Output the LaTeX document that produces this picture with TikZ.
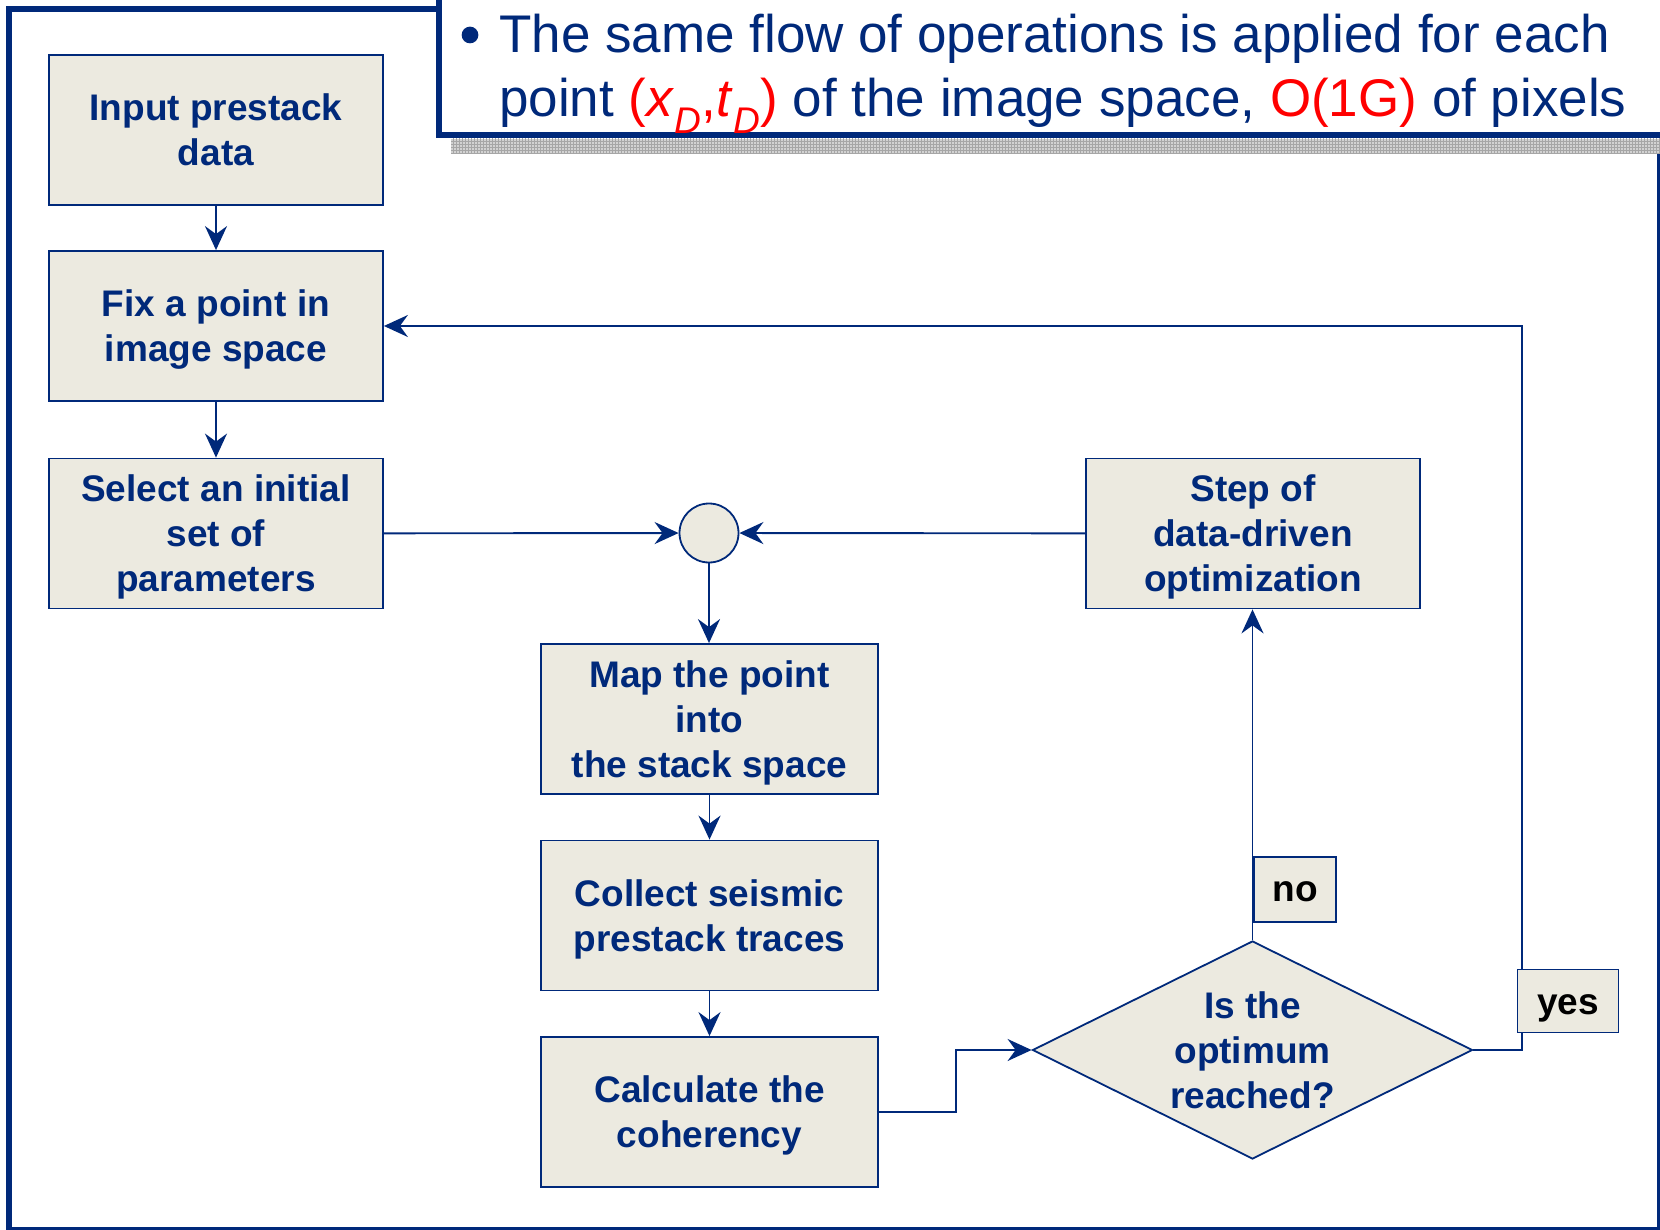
\documentclass[tikz,border=0pt]{standalone}
\usepackage{fontspec}
\setmainfont{Liberation Sans}
\usetikzlibrary{arrows.meta,shapes.geometric,patterns}
\definecolor{navy}{RGB}{0,41,122}
\definecolor{boxfill}{RGB}{236,234,224}
\definecolor{hred}{RGB}{255,0,0}
\begin{document}
\begin{tikzpicture}[x=1pt,y=-1pt,
  proc/.style={draw=navy, line width=1.8pt, fill=boxfill, minimum width=334pt, minimum height=150pt,
    inner sep=0pt, align=center, text=navy, text depth=0pt, font=\fontsize{37}{45}\selectfont\bfseries},
  conn/.style={draw=navy, line width=1.9pt, -{Stealth[length=24pt,width=22pt,inset=8pt]}},
  lab/.style={draw=navy, line width=1.8pt, fill=boxfill, inner sep=0pt, text=black,
    font=\fontsize{37}{43}\selectfont\bfseries},
  calltext/.style={anchor=base west, inner sep=0pt, text=navy, font=\fontsize{53}{64}\selectfont},
  frame/.style={draw=navy, line cap=rect}
]
\useasboundingbox (0,0) rectangle (1660,1230);
\fill[white] (0,0) rectangle (1660,1230);

% outer frame
\draw[frame, line width=6pt] (9,1232) -- (9,9) -- (439,9);
\draw[frame, line width=6pt] (439,-2) -- (439,135) -- (1662,135);
\draw[frame, line width=3pt] (1658,155) -- (1658,1228) -- (9,1228);
% shadow under callout
\fill[gray!35] (451,139) rectangle (1660,154);
\fill[pattern=grid, pattern color=gray!70] (451,139) rectangle (1660,154);

% callout text
\node[circle, fill=navy, minimum size=16.7pt, inner sep=0pt] (bul) at (470,35) {};
\node[calltext] (l1) at (499,53) {The same flow of operations is applied for each};
\node[calltext] (l2) at (499,117) {point {\color{hred}(\textit{x}\textsubscript{\textit{D}},\textit{t}\textsubscript{\textit{D}})} of the image space, {\color{hred}O(1G)} of pixels};

% process boxes
\node[proc] (b1) at (216,130) {Input prestack\\data};
\node[proc] (b2) at (216,326) {Fix a point in\\image space};
\node[proc] (b3) at (216,533.5) {Select an initial\\set of\\parameters};
\node[proc, minimum width=337pt] (b4) at (709.5,719) {Map the point\\into\\the stack space};
\node[proc, minimum width=337pt] (b5) at (709.5,915.5) {Collect seismic\\prestack traces};
\node[proc, minimum width=337pt] (b6) at (709.5,1112) {Calculate the\\coherency};
\node[proc] (b7) at (1253,533.5) {Step of\\data-driven\\optimization};
\node[circle, draw=navy, line width=1.8pt, fill=boxfill, minimum size=59pt, inner sep=0pt] (circ) at (709,533) {};
\node[diamond, aspect=2, draw=navy, line width=1.8pt, fill=boxfill, minimum width=440pt, minimum height=218pt,
  inner sep=0pt, align=center, text=navy, text depth=0pt, font=\fontsize{37}{45}\selectfont\bfseries] (dia) at (1252.5,1050) {Is the\\optimum\\reached?};

% connectors
\draw[conn] (b1) -- (b2);
\draw[conn] (b2) -- (b3);
\draw[conn] (b3) -- (circ);
\draw[conn] (b7) -- (circ);
\draw[conn] (circ.south) -- (circ.south |- b4.north);
\draw[conn] (b4) -- (b5);
\draw[conn] (b5) -- (b6);
\draw[conn] ([xshift=-2pt]b6.east) -- ++(79,0) |- (dia.west);
\draw[conn] (dia.north) -- (dia.north |- b7.south);
\draw[conn] (dia.east) -- ++(49,0) |- (b2.east);

% branch labels
\node[lab, minimum width=82pt, minimum height=65pt] (no) at (1295,889.5) {\raisebox{-2pt}[19pt][0pt]{no}};
\node[lab, minimum width=101pt, minimum height=63pt] (yes) at (1568,1001) {\raisebox{-4pt}[19pt][0pt]{yes}};
\end{tikzpicture}
\end{document}
